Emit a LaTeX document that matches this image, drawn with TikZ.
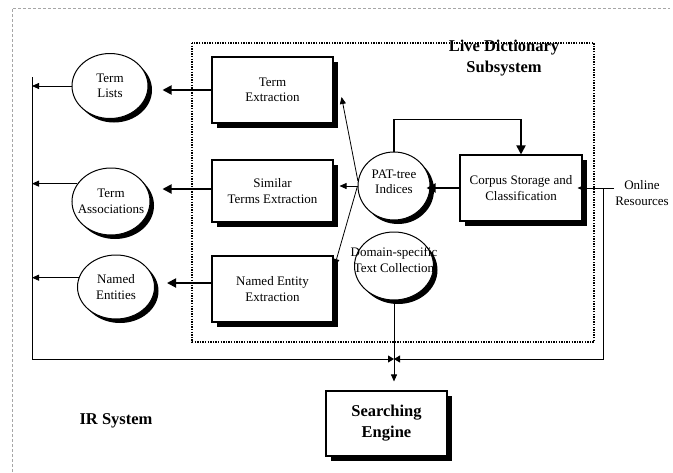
\documentclass[tikz,border=0pt]{standalone}
\usepackage{fontspec}
\setmainfont{Liberation Serif}
\usetikzlibrary{shadows,arrows.meta,shapes.geometric,calc}
\tikzset{
 txt/.style={font=\fontsize{13}{15.5}\selectfont, align=center},
 btxt/.style={font=\bfseries\fontsize{16.5}{21}\selectfont, align=center},
 box/.style={draw, line width=1.1pt, fill=white, txt, inner sep=2pt,
   drop shadow={shadow xshift=5pt, shadow yshift=-5pt, fill=black, opacity=1}},
 ell/.style={ellipse, draw, line width=1pt, fill=white, inner sep=0pt,
   drop shadow={shadow xshift=4pt, shadow yshift=-4pt, fill=black, opacity=1}},
 thickarr/.style={line width=1.8pt, -{Triangle[length=9pt,width=9pt]}},
 thinarr/.style={line width=0.8pt, -{Triangle[length=7pt,width=6pt]}},
 tiparr/.style={line width=0.9pt, -{Triangle[length=6pt,width=7pt]}},
 plain/.style={line width=0.9pt},
 dotbox/.style={line width=1.6pt, dash pattern=on 1.4pt off 1.2pt},
 faint/.style={draw=black!35, line width=0.5pt, dash pattern=on 3pt off 2pt}
}
\begin{document}
\begin{tikzpicture}[x=1pt,y=-1pt]
\useasboundingbox (0,0) rectangle (673,472);
\draw[faint] (12,472) -- (12,8) -- (670,8);
\draw[dotbox] (192,43) rectangle (594,342);

% boxes
\node[box, minimum width=121pt, minimum height=66pt] (TE) at (272.5,90) {Term\\Extraction};
\node[box, minimum width=121pt, minimum height=62pt] (SE) at (272.5,191) {Similar\\Terms Extraction};
\node[box, minimum width=121pt, minimum height=66pt] (NE) at (272.5,289) {Named Entity\\Extraction};
\node[box, minimum width=122pt, minimum height=66pt] (CS) at (521,188) {Corpus Storage and\\Classification};
\node[box, btxt, minimum width=121pt, minimum height=65pt] (SR) at (386.5,423.5) {Searching\\Engine};

% ellipses
\node[ell, minimum width=76pt, minimum height=65pt, label={[txt]center:Term\\Lists}] (TL) at (110,86) {};
\node[ell, minimum width=78pt, minimum height=67pt, label={[txt]center:Term\\Associations}] (TA) at (111,201.5) {};
\node[ell, minimum width=77pt, minimum height=64pt, label={[txt]center:Named\\Entities}] (NN) at (116,287) {};
\node[ell, minimum width=72pt, minimum height=68pt, label={[txt,yshift=4pt]center:PAT-tree\\Indices}] (PAT) at (394,186) {};
\node[ell, minimum width=79pt, minimum height=68pt, label={[txt,yshift=6pt]center:Domain-specific\\Text Collection}] (DOM) at (394,266) {};

% labels
\node[btxt] (LDT) at (504,58) {Live Dictionary\\Subsystem};
\node[btxt] (IR) at (116,421) {IR System};
\node[txt, inner sep=1pt] (OR) at (642,193) {Online\\Resources};

% coordinates
\coordinate (Ltop) at (32,77);
\coordinate (L) at (32,359);
\coordinate (J) at (394,359);
\coordinate (R) at (603,359);
\coordinate (Rtop) at (603,188);

% frame lines
\draw[plain] (Ltop) -- (L);
\draw[tiparr] (L) -- (J);
\draw[tiparr] (Rtop) -- (R) -- (J);
\draw[plain] (DOM.south) -- (J);
\draw[thinarr, shorten >=9pt] (J) -- (J |- SR.north);
\draw[thinarr, shorten >=-5pt] (OR.west |- CS.east) -- (CS.east);

% ellipses to left line
\draw[thinarr] (TL.west) -- (TL.west -| Ltop);
\draw[thinarr] (TA.152) -- (TA.152 -| Ltop);
\draw[thinarr] (NN.166) -- (NN.166 -| Ltop);

% boxes to ellipses
\draw[thickarr, shorten >=14pt] (TE.west) -- (TE.west -| TL.east);
\draw[thickarr, shorten >=12pt] ($(SE.west)+(0,-2)$) -- ($(SE.west -| TA.east)+(0,-2)$);
\draw[thickarr, shorten >=12pt] ($(NE.west)+(0,-6)$) -- ($(NE.west -| NN.east)+(0,-6)$);

% PAT connections
\draw[thinarr] (PAT.172) -- ($(TE.east)+(8,7)$);
\draw[thinarr] (PAT.west) -- ($(PAT.west -| SE.east)+(6,0)$);
\draw[thinarr] (PAT.west) -- ($(NE.east)+(1,-23)$);
\draw[thickarr] (PAT.north) -- ++(0,-32) -| (CS.north);
\draw[thickarr, shorten >=-4pt] (CS.west) -- (CS.west -| PAT.east);
\end{tikzpicture}
\end{document}
